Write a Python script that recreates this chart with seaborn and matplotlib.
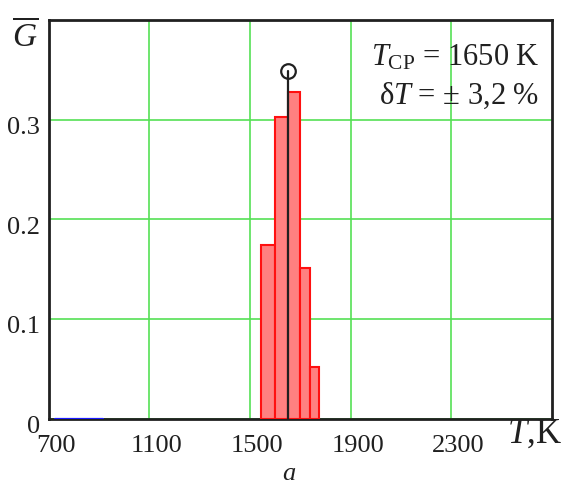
import numpy as np
import seaborn as sns
import matplotlib.pyplot as plt
from matplotlib.transforms import ScaledTranslation

# histogram bins (K) and relative frequencies
bin_edges = [1545, 1600, 1651, 1700, 1739, 1775]
bin_heights = [0.174, 0.303, 0.328, 0.151, 0.052]
t_mean = 1650
g_mark = 0.349
blue_x = [725, 915]
blue_y = [0, 0]

x_ticks = [700, 1100, 1500, 1900, 2300]
y_ticks = [0, 0.1, 0.2, 0.3]
y_labels = ["0", "0.1", "0.2", "0.3"]

sns.set_theme(style="white")
plt.rcParams["font.family"] = ["Liberation Serif", "DejaVu Serif"]
plt.rcParams["mathtext.fontset"] = "custom"
plt.rcParams["mathtext.rm"] = "Liberation Serif"
plt.rcParams["mathtext.it"] = "Liberation Serif:italic"

fig = plt.figure(figsize=(5.65, 4.88), dpi=100)
ax = fig.add_axes([0.0862, 0.1422, 0.8908, 0.8170])

centers = [(a + b) / 2 for a, b in zip(bin_edges[:-1], bin_edges[1:])]
sns.histplot(x=centers, weights=bin_heights, bins=bin_edges, stat="count",
             color="#ff8080", edgecolor="#ff1010", linewidth=1.5, alpha=1,
             ax=ax, zorder=3)

ax.plot([t_mean, t_mean], [0, g_mark], color="#202020", lw=1.6, zorder=4)
ax.plot([t_mean], [g_mark], marker="o", ms=10.5, mfc="none", mec="#202020",
        mew=1.6, zorder=5, clip_on=False)
sns.lineplot(x=blue_x, y=blue_y, color="#1a1aff", lw=1.6, ax=ax, zorder=4)

ax.set_xlim(700, 2700)
ax.set_ylim(0, 0.4)
ax.set_xticks(x_ticks)
ax.set_yticks(y_ticks)
ax.set_yticklabels(y_labels)
ax.grid(True, color="#55e055", lw=1.2, zorder=0)
ax.set_axisbelow(True)
ax.tick_params(length=0, labelsize=19, colors="#202020", pad=6)
for lab in ax.get_xticklabels():
    lab.set_transform(lab.get_transform() + ScaledTranslation(0.07, -0.08, fig.dpi_scale_trans))
for lab in ax.get_yticklabels():
    lab.set_transform(lab.get_transform() + ScaledTranslation(0, -0.06, fig.dpi_scale_trans))
ax.set_xlabel("")
ax.set_ylabel("")
for s in ax.spines.values():
    s.set_color("#202020")
    s.set_linewidth(2)

ax.text(0.975, 0.905, r"$T_{\rm CP}$ = 1650 K", transform=ax.transAxes,
        ha="right", va="center", fontsize=22, color="#202020")
ax.text(0.975, 0.81, r"δ$T$ = ± 3,2 %", transform=ax.transAxes,
        ha="right", va="center", fontsize=22, color="#202020")

fig.text(0.045, 0.925, r"$\overline{G}$", ha="center", va="center",
         fontsize=24, color="#202020")
fig.text(0.995, 0.092, r"$T$,K", ha="right", va="baseline",
         fontsize=25, color="#202020")
fig.text(0.511, 0.016, r"$a$", ha="center", va="baseline",
         fontsize=19, color="#202020")

fig.savefig("out.png", dpi=100)
